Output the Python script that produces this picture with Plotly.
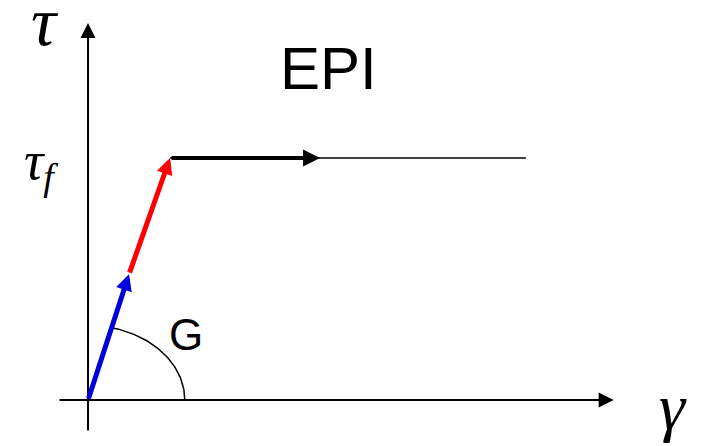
import numpy as np
import plotly.graph_objects as go

# ---- data (normalised units: gamma_y = 1, tau_f = 1) ----
gamma_path = [0.0, 0.5, 1.0, 2.83, 5.34]     # origin, elastic mid, yield, plastic arrow tip, end
tau_path = [0.0, 0.52, 1.0, 1.0, 1.0]
axis_gamma = [-0.366, 6.41]
axis_tau = [-0.132, 1.558]
arc_rx = 1.18
arc_ry = 0.308

# page body has an 8px margin, so the figure is 8px smaller each way
W, H = 700, 438
x_range = [-0.976, 7.561]
y_range = [-0.19, 1.620]

fig = go.Figure()

# thin plastic continuation
fig.add_trace(go.Scatter(x=[gamma_path[2], gamma_path[4]], y=[tau_path[2], tau_path[4]],
                         mode="lines", line=dict(color="black", width=1.5),
                         hoverinfo="skip", showlegend=False))

# arc for G
t_end = np.arctan2(tau_path[2] / arc_ry, gamma_path[2] / arc_rx)
t = np.linspace(0, t_end, 60)
fig.add_trace(go.Scatter(x=arc_rx * np.cos(t), y=arc_ry * np.sin(t),
                         mode="lines", line=dict(color="black", width=1.5),
                         hoverinfo="skip", showlegend=False))

def arrow(x0, y0, x1, y1, color, width, size):
    fig.add_annotation(x=x1, y=y1, ax=x0, ay=y0, xref="x", yref="y", axref="x", ayref="y",
                       text="", showarrow=True, arrowhead=2, arrowsize=size,
                       arrowwidth=width, arrowcolor=color, standoff=0)

# axes
arrow(axis_gamma[0], 0, axis_gamma[1], 0, "black", 2, 1.5)
arrow(0, axis_tau[0], 0, axis_tau[1], "black", 2, 1.5)
# path segments
arrow(gamma_path[0], tau_path[0], gamma_path[1], tau_path[1], "#0000DD", 5, 0.65)
arrow(gamma_path[1], tau_path[1], gamma_path[2], tau_path[2], "#FF0000", 5, 0.65)
arrow(gamma_path[2], tau_path[2], gamma_path[3], tau_path[3], "black", 4, 0.85)

def label(x, y, text, size, family):
    fig.add_annotation(x=x, y=y, xref="x", yref="y", text=text, showarrow=False,
                       font=dict(size=size, family=family, color="black"),
                       xanchor="center", yanchor="middle")

label(-0.52, 1.565, "<i>τ</i>", 70, "Liberation Serif")
label(-0.57, 0.975, "<i>τ<sub>f</sub></i>", 54, "Liberation Serif")
label(7.13, -0.027, "<i>γ</i>", 66, "Liberation Serif")
label(2.93, 1.37, "EPI", 60, "Liberation Sans")
label(1.19, 0.27, "G", 44, "Liberation Sans")

fig.update_layout(width=W, height=H, margin=dict(l=0, r=0, t=0, b=0),
                  paper_bgcolor="white", plot_bgcolor="white", showlegend=False)
fig.update_xaxes(range=x_range, visible=False, fixedrange=True)
fig.update_yaxes(range=y_range, visible=False, fixedrange=True)

fig.write_html("out.html")
